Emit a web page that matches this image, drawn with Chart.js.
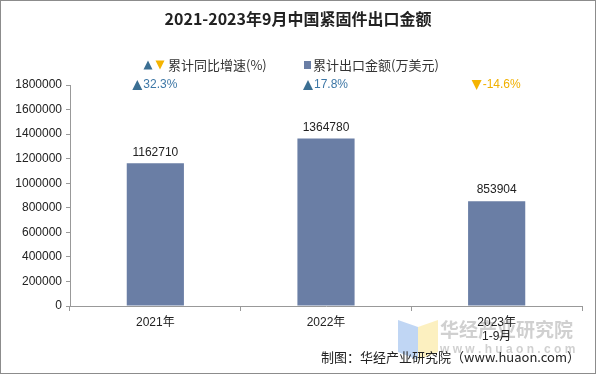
<!DOCTYPE html>
<html>
<head>
<meta charset="utf-8">
<script src="https://cdn.jsdelivr.net/npm/chart.js@4/dist/chart.umd.min.js"></script>
<style>
  html, body { margin: 0; padding: 0; background: #fff; }
  #wrap { width: 596px; height: 374px; position: relative; }
</style>
</head>
<body>
<div id="wrap"><canvas id="chart" width="596" height="374"></canvas></div>
<script>
// datos del gráfico
const categories = [['2021年'], ['2022年'], ['2023年', '1-9月']];
const exportValues = [1162710, 1364780, 853904];   // 万美元
const growthRates = [32.3, 17.8, -14.6];            // %
const yTicks = [0, 200000, 400000, 600000, 800000, 1000000, 1200000, 1400000, 1600000, 1800000];

const BAR_COLOR = '#6a7ea5';
const UP_COLOR = '#3b6f93';
const DOWN_COLOR = '#f5b400';
const FONT = "'Liberation Sans', Arial, 'Noto Sans CJK SC', sans-serif";
const CJK = "'Noto Sans CJK SC', 'Liberation Sans', sans-serif";

const triangle = (ctx, x, y, s, up, color) => {
  ctx.fillStyle = color;
  ctx.beginPath();
  if (up) {
    ctx.moveTo(x, y - s / 2); ctx.lineTo(x + s / 2, y + s / 2); ctx.lineTo(x - s / 2, y + s / 2);
  } else {
    ctx.moveTo(x - s / 2, y - s / 2); ctx.lineTo(x + s / 2, y - s / 2); ctx.lineTo(x, y + s / 2);
  }
  ctx.closePath();
  ctx.fill();
};

// plugin: título, leyenda, etiquetas y pie
const decorPlugin = {
  id: 'decor',
  beforeDraw(chart) {
    const ctx = chart.ctx;
    ctx.save();
    ctx.fillStyle = '#fff';
    ctx.fillRect(0, 0, chart.width, chart.height);
    // marca de agua
    ctx.fillStyle = 'rgba(140,180,235,0.55)';
    ctx.beginPath();
    ctx.moveTo(398, 320); ctx.lineTo(418, 327); ctx.lineTo(418, 360); ctx.lineTo(398, 352);
    ctx.fill();
    ctx.fillStyle = 'rgba(250,230,150,0.6)';
    ctx.beginPath();
    ctx.moveTo(418, 327); ctx.lineTo(438, 320); ctx.lineTo(438, 352); ctx.lineTo(418, 360);
    ctx.fill();
    ctx.fillStyle = 'rgba(150,150,150,0.45)';
    ctx.font = 'bold 19px ' + CJK;
    ctx.textAlign = 'left';
    ctx.textBaseline = 'middle';
    ctx.fillText('华经产业研究院', 440, 330);
    ctx.font = 'bold 12px ' + FONT;
    ctx.fillText('w w w . h u a o n . c o m', 440, 350);
    ctx.restore();
  },
  afterDraw(chart) {
    const ctx = chart.ctx;
    const x = chart.scales.x;
    ctx.save();
    // borde exterior
    ctx.strokeStyle = '#8c8c8c';
    ctx.lineWidth = 1;
    ctx.strokeRect(0.5, 0.5, chart.width - 1, chart.height - 1);

    // título
    ctx.fillStyle = '#222';
    ctx.font = 'bold 16px ' + CJK;
    ctx.textAlign = 'center';
    ctx.textBaseline = 'middle';
    ctx.fillText('2021-2023年9月中国紧固件出口金额', 298, 19);

    // leyenda
    ctx.font = '13px ' + CJK;
    ctx.textAlign = 'left';
    triangle(ctx, 148, 65, 9, true, UP_COLOR);
    triangle(ctx, 160, 65, 9, false, DOWN_COLOR);
    ctx.fillStyle = '#333';
    ctx.fillText('累计同比增速(%)', 168, 65);
    ctx.fillStyle = BAR_COLOR;
    ctx.fillRect(304, 61, 7, 8);
    ctx.fillStyle = '#333';
    ctx.fillText('累计出口金额(万美元)', 313, 65);

    // etiquetas de valor y crecimiento
    const meta = chart.getDatasetMeta(0);
    meta.data.forEach((bar, i) => {
      ctx.font = '12px ' + FONT;
      ctx.textAlign = 'center';
      ctx.fillStyle = '#222';
      ctx.fillText(String(exportValues[i]), bar.x, bar.y - 11);

      const g = growthRates[i];
      const cx = x.getPixelForValue(i);
      const up = g >= 0;
      const txt = g.toFixed(1) + '%';
      const w = ctx.measureText(txt).width + 12;
      const left = cx - w / 2;
      triangle(ctx, left + 5, 85, 10, up, up ? UP_COLOR : DOWN_COLOR);
      ctx.fillStyle = up ? '#3d77a6' : '#f0b000';
      ctx.textAlign = 'left';
      ctx.fillText(txt, left + 11, 85);
    });

    // pie
    ctx.font = '13px ' + CJK;
    ctx.textAlign = 'right';
    ctx.fillStyle = '#222';
    ctx.fillText('制图：华经产业研究院（www.huaon.com）', 580, 357);
    ctx.restore();
  }
};

const ctx = document.getElementById('chart').getContext('2d');
new Chart(ctx, {
  type: 'bar',
  data: {
    labels: categories,
    datasets: [{
      label: '累计出口金额(万美元)',
      data: exportValues,
      backgroundColor: BAR_COLOR,
      borderWidth: 0,
      barPercentage: 0.335,
      categoryPercentage: 1
    }]
  },
  options: {
    responsive: false,
    animation: false,
    layout: { padding: { top: 85, right: 14, left: 0, bottom: 0 } },
    plugins: {
      legend: { display: false },
      title: { display: false },
      tooltip: { enabled: false }
    },
    scales: {
      x: {
        grid: { drawOnChartArea: false, offset: true, color: '#999', tickLength: 5 },
        border: { color: '#999' },
        ticks: { color: '#222', font: { size: 12, family: FONT }, padding: 4 },
        afterFit: (s) => { s.height = 68; }
      },
      y: {
        min: 0,
        max: 1800000,
        afterBuildTicks: (s) => { s.ticks = yTicks.map(v => ({ value: v })); },
        grid: { drawOnChartArea: false, color: '#999', tickLength: 4 },
        border: { color: '#999' },
        ticks: {
          color: '#222',
          font: { size: 12, family: FONT },
          padding: 4,
          callback: (v) => String(v)
        },
        afterFit: (s) => { s.width = 70; }
      }
    }
  },
  plugins: [decorPlugin]
});
</script>
</body>
</html>
